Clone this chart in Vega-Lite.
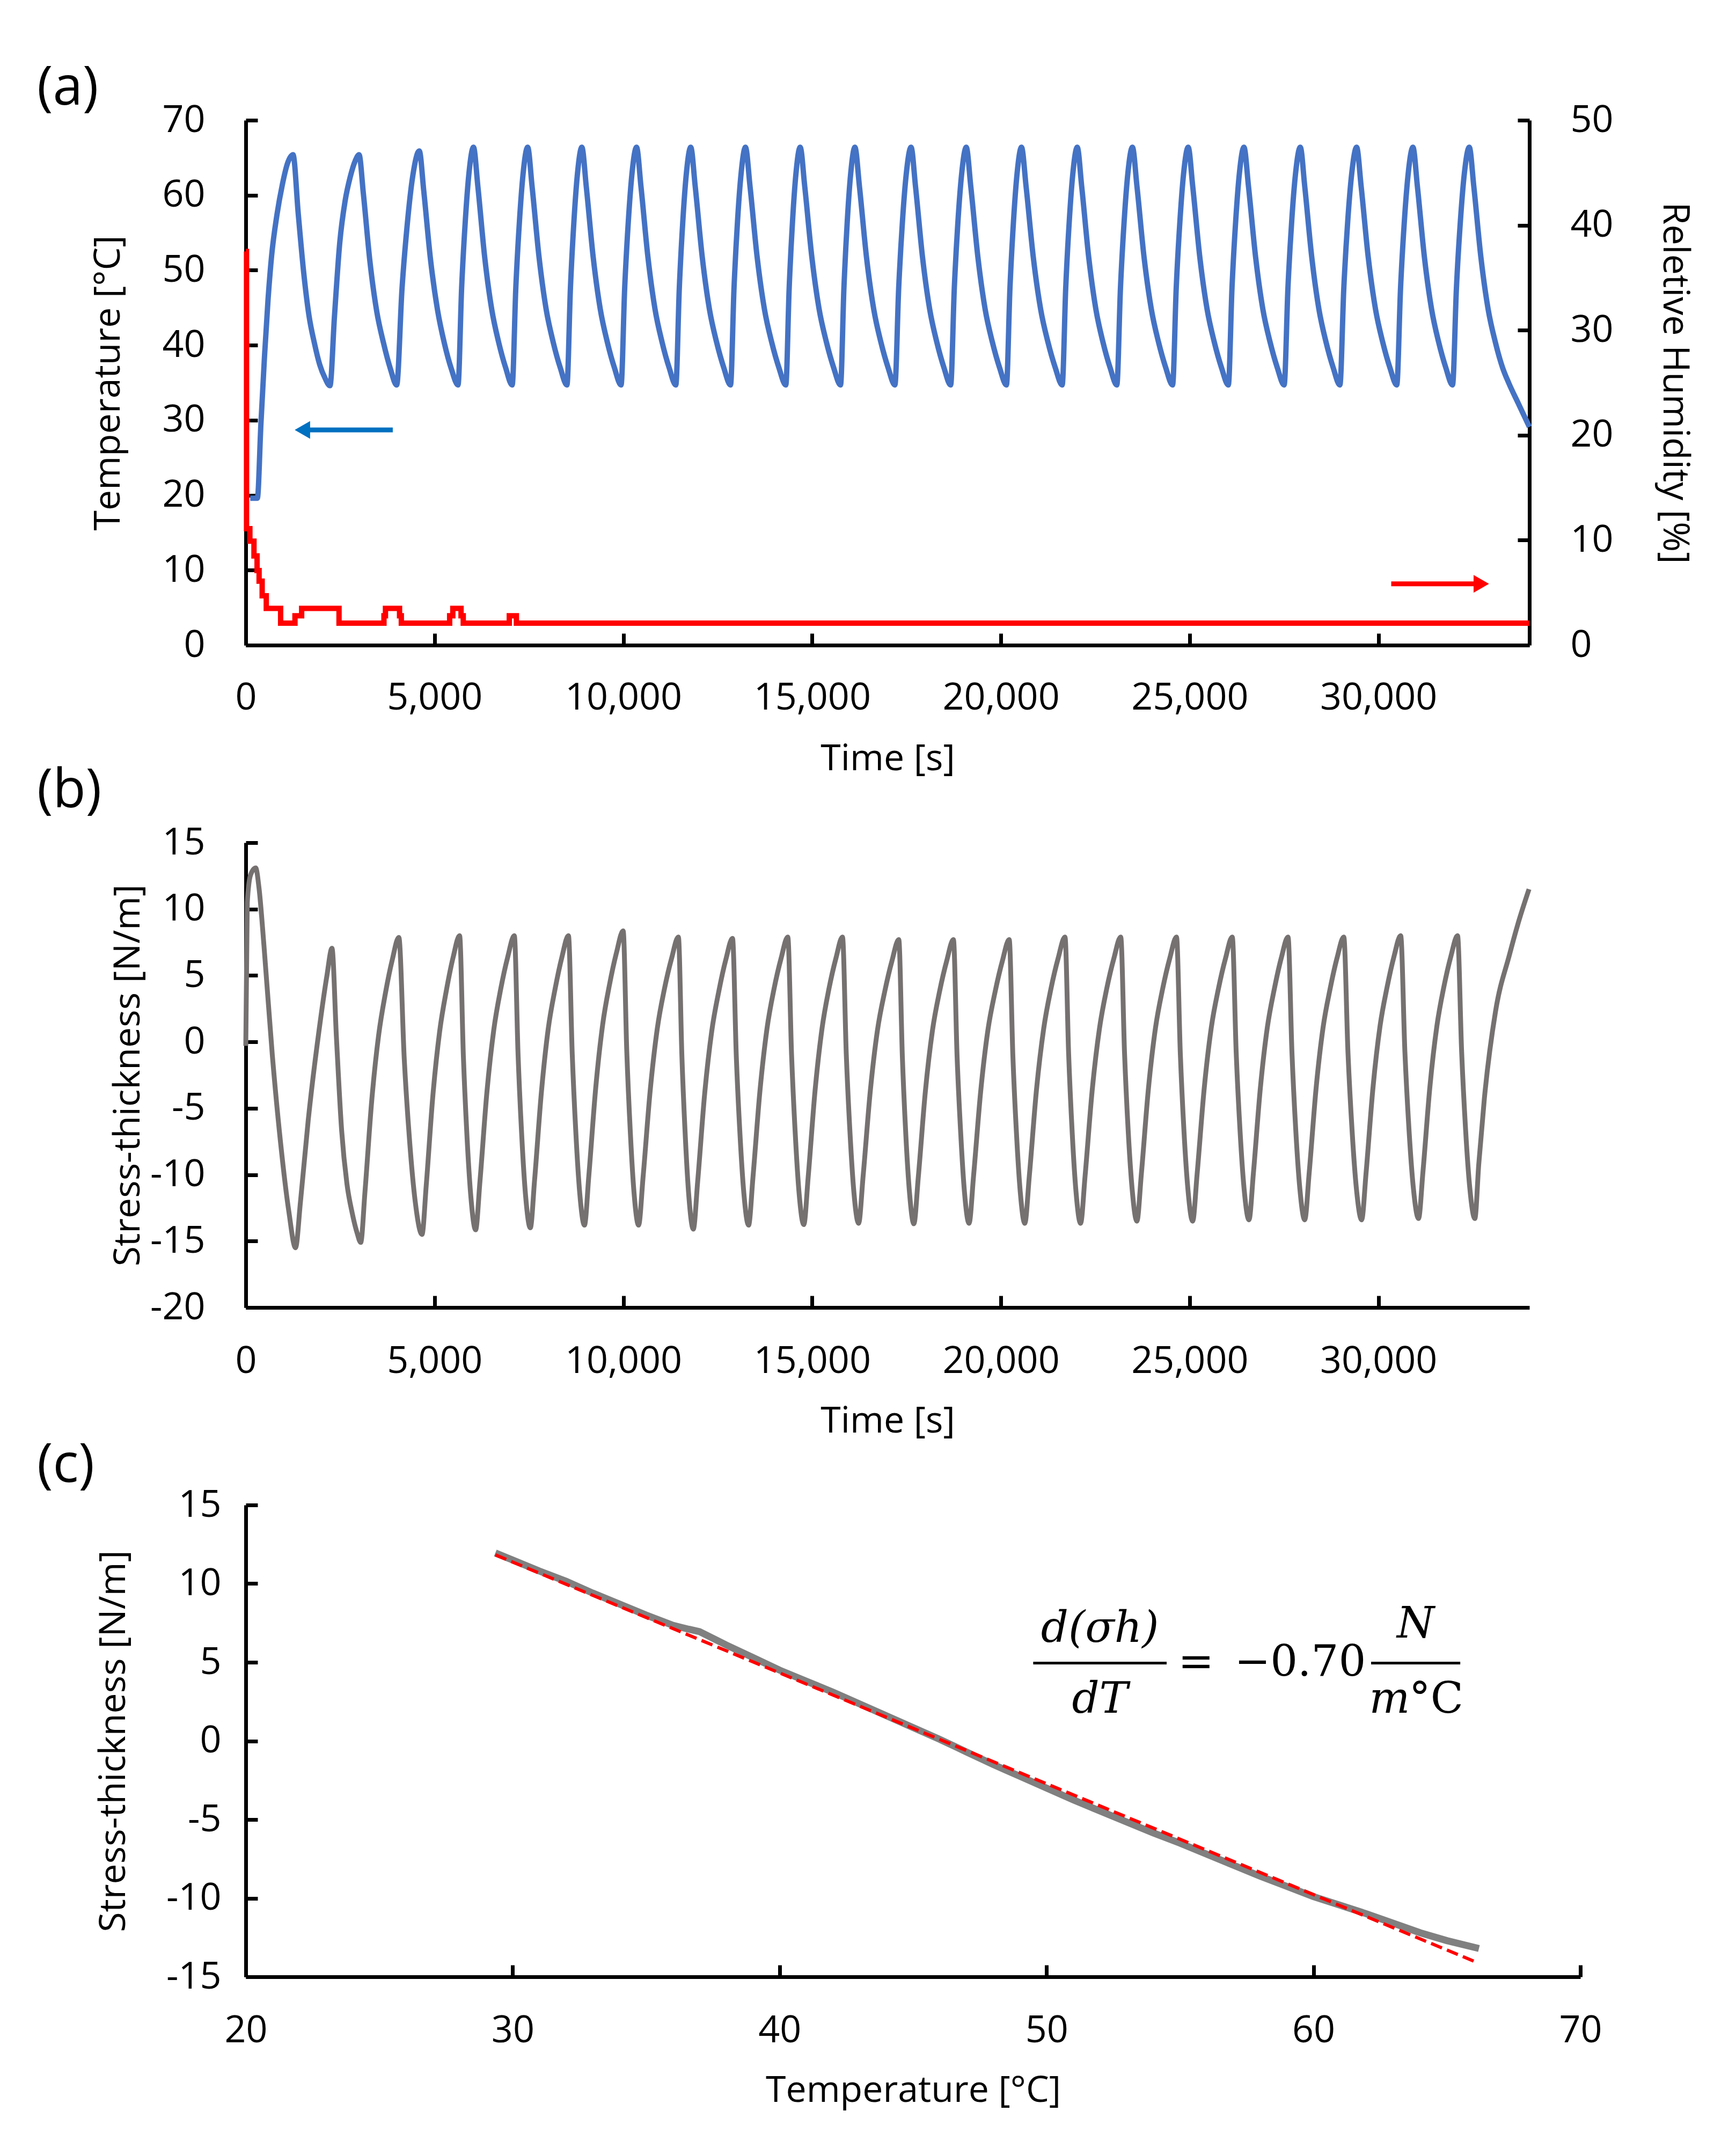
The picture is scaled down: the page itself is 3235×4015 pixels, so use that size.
{
  "$schema": "https://vega.github.io/schema/vega-lite/v6.json",
  "padding": {"left": 69, "top": 115, "right": 60, "bottom": 10},
  "background": "white",
  "config": {
    "font": "Open Sans",
    "view": {"stroke": null},
    "axis": {
      "grid": false, "domainColor": "black", "domainWidth": 7,
      "tickColor": "black", "tickWidth": 7, "tickSize": -22,
      "labelFontSize": 70, "labelColor": "black", "labelLimit": 0,
      "titleFontSize": 68, "titleColor": "black", "titleFontWeight": "normal",
      "labelFlush": false, "labelOverlap": false
    },
    "title": {"fontSize": 100, "fontWeight": "normal", "color": "black", "anchor": "start", "frame": "group", "dx": -389, "baseline": "alphabetic"}
  },
  "datasets": {
    "temp": [
      {"time":118,"temp":19.6},{"time":307,"temp":19.6},{"time":401,"temp":29.5},{"time":496,"temp":38.5},{"time":590,"temp":46.1},{"time":684,"temp":51.9},{"time":826,"temp":57.4},{"time":968,"temp":61.4},{"time":1109,"temp":64.3},{"time":1251,"temp":65.4},
      {"time":1392,"temp":57.4},{"time":1534,"temp":49.7},{"time":1676,"temp":43.9},{"time":1817,"temp":40.3},{"time":1959,"temp":37.4},{"time":2100,"temp":35.6},{"time":2230,"temp":34.6},
      {"time":2350,"temp":43.9},{"time":2490,"temp":53.7},{"time":2630,"temp":59.2},{"time":2770,"temp":62.5},{"time":2900,"temp":64.6},{"time":3001,"temp":65.4},
      {"time":3113,"temp":60.3},{"time":3290,"temp":51.1},{"time":3469,"temp":44.5},{"time":3648,"temp":40.3},{"time":3828,"temp":36.9},{"time":3997,"temp":34.7},
      {"time":4138,"temp":47.5},{"time":4279,"temp":56.2},{"time":4421,"temp":62.5},{"time":4597,"temp":65.9},
      {"time":4712,"temp":60.7},{"time":4894,"temp":51.4},{"time":5079,"temp":44.7},{"time":5263,"temp":40.2},{"time":5448,"temp":36.8},{"time":5622,"temp":34.7},
      {"time":5718,"temp":47.7},{"time":5815,"temp":56.6},{"time":5911,"temp":62.9},{"time":6032,"temp":66.4},
      {"time":6147,"temp":61.2},{"time":6329,"temp":51.7},{"time":6514,"temp":44.8},{"time":6698,"temp":40.4},{"time":6883,"temp":37.0},{"time":7057,"temp":34.7},
      {"time":7153,"temp":47.7},{"time":7250,"temp":56.6},{"time":7346,"temp":62.9},{"time":7467,"temp":66.4},
      {"time":7583,"temp":61.2},{"time":7769,"temp":51.7},{"time":7956,"temp":44.8},{"time":8143,"temp":40.4},{"time":8330,"temp":37.0},{"time":8507,"temp":34.7},
      {"time":8600,"temp":47.7},{"time":8693,"temp":56.6},{"time":8786,"temp":62.9},{"time":8902,"temp":66.4},
      {"time":9018,"temp":61.2},{"time":9203,"temp":51.7},{"time":9390,"temp":44.8},{"time":9577,"temp":40.4},{"time":9764,"temp":37.0},{"time":9941,"temp":34.7},
      {"time":10037,"temp":47.7},{"time":10134,"temp":56.6},{"time":10230,"temp":62.9},{"time":10351,"temp":66.4},
      {"time":10467,"temp":61.2},{"time":10653,"temp":51.7},{"time":10840,"temp":44.8},{"time":11027,"temp":40.4},{"time":11214,"temp":37.0},{"time":11391,"temp":34.7},
      {"time":11484,"temp":47.7},{"time":11577,"temp":56.6},{"time":11670,"temp":62.9},{"time":11786,"temp":66.4},
      {"time":11904,"temp":61.2},{"time":12092,"temp":51.7},{"time":12281,"temp":44.8},{"time":12471,"temp":40.4},{"time":12661,"temp":37.0},{"time":12840,"temp":34.7},
      {"time":12933,"temp":47.7},{"time":13026,"temp":56.6},{"time":13120,"temp":62.9},{"time":13236,"temp":66.4},
      {"time":13356,"temp":61.2},{"time":13546,"temp":51.7},{"time":13738,"temp":44.8},{"time":13930,"temp":40.4},{"time":14122,"temp":37.0},{"time":14304,"temp":34.7},
      {"time":14394,"temp":47.7},{"time":14483,"temp":56.6},{"time":14573,"temp":62.9},{"time":14685,"temp":66.4},
      {"time":14805,"temp":61.2},{"time":14995,"temp":51.7},{"time":15187,"temp":44.8},{"time":15380,"temp":40.4},{"time":15572,"temp":37.0},{"time":15754,"temp":34.7},
      {"time":15844,"temp":47.7},{"time":15933,"temp":56.6},{"time":16023,"temp":62.9},{"time":16135,"temp":66.4},
      {"time":16254,"temp":61.2},{"time":16442,"temp":51.7},{"time":16633,"temp":44.8},{"time":16823,"temp":40.4},{"time":17014,"temp":37.0},{"time":17194,"temp":34.7},
      {"time":17295,"temp":47.7},{"time":17395,"temp":56.6},{"time":17496,"temp":62.9},{"time":17622,"temp":66.4},
      {"time":17739,"temp":61.2},{"time":17926,"temp":51.7},{"time":18115,"temp":44.8},{"time":18304,"temp":40.4},{"time":18493,"temp":37.0},{"time":18671,"temp":34.7},
      {"time":18768,"temp":47.7},{"time":18865,"temp":56.6},{"time":18963,"temp":62.9},{"time":19084,"temp":66.4},
      {"time":19203,"temp":61.2},{"time":19393,"temp":51.7},{"time":19584,"temp":44.8},{"time":19776,"temp":40.4},{"time":19967,"temp":37.0},{"time":20148,"temp":34.7},
      {"time":20242,"temp":47.7},{"time":20336,"temp":56.6},{"time":20430,"temp":62.9},{"time":20547,"temp":66.4},
      {"time":20668,"temp":61.2},{"time":20860,"temp":51.7},{"time":21054,"temp":44.8},{"time":21248,"temp":40.4},{"time":21442,"temp":37.0},{"time":21625,"temp":34.7},
      {"time":21719,"temp":47.7},{"time":21813,"temp":56.6},{"time":21907,"temp":62.9},{"time":22024,"temp":66.4},
      {"time":22141,"temp":61.2},{"time":22328,"temp":51.7},{"time":22517,"temp":44.8},{"time":22705,"temp":40.4},{"time":22894,"temp":37.0},{"time":23072,"temp":34.7},
      {"time":23169,"temp":47.7},{"time":23267,"temp":56.6},{"time":23364,"temp":62.9},{"time":23486,"temp":66.4},
      {"time":23605,"temp":61.2},{"time":23794,"temp":51.7},{"time":23986,"temp":44.8},{"time":24177,"temp":40.4},{"time":24368,"temp":37.0},{"time":24549,"temp":34.7},
      {"time":24646,"temp":47.7},{"time":24744,"temp":56.6},{"time":24841,"temp":62.9},{"time":24963,"temp":66.4},
      {"time":25082,"temp":61.2},{"time":25271,"temp":51.7},{"time":25463,"temp":44.8},{"time":25654,"temp":40.4},{"time":25845,"temp":37.0},{"time":26026,"temp":34.7},
      {"time":26123,"temp":47.7},{"time":26221,"temp":56.6},{"time":26318,"temp":62.9},{"time":26440,"temp":66.4},
      {"time":26559,"temp":61.2},{"time":26749,"temp":51.7},{"time":26940,"temp":44.8},{"time":27132,"temp":40.4},{"time":27323,"temp":37.0},{"time":27504,"temp":34.7},
      {"time":27605,"temp":47.7},{"time":27705,"temp":56.6},{"time":27806,"temp":62.9},{"time":27932,"temp":66.4},
      {"time":28049,"temp":61.2},{"time":28236,"temp":51.7},{"time":28425,"temp":44.8},{"time":28614,"temp":40.4},{"time":28803,"temp":37.0},{"time":28981,"temp":34.7},
      {"time":29085,"temp":47.7},{"time":29189,"temp":56.6},{"time":29294,"temp":62.9},{"time":29424,"temp":66.4},
      {"time":29543,"temp":61.2},{"time":29732,"temp":51.7},{"time":29924,"temp":44.8},{"time":30115,"temp":40.4},{"time":30306,"temp":37.0},{"time":30487,"temp":34.7},
      {"time":30588,"temp":47.7},{"time":30689,"temp":56.6},{"time":30790,"temp":62.9},{"time":30916,"temp":66.4},
      {"time":31033,"temp":61.2},{"time":31220,"temp":51.7},{"time":31409,"temp":44.8},{"time":31597,"temp":40.4},{"time":31786,"temp":37.0},{"time":31964,"temp":34.7},
      {"time":32068,"temp":47.7},{"time":32173,"temp":56.6},{"time":32277,"temp":62.9},{"time":32408,"temp":66.4},
      {"time":32527,"temp":61.2},{"time":32716,"temp":51.7},{"time":32907,"temp":44.8},{"time":33098,"temp":40.4},{"time":33290,"temp":37.0},{"time":33458,"temp":34.9},{"time":33700,"temp":32.3},{"time":34000,"temp":29.1}
    ],
    "rh": [
      {"time":0,"rh":37.5},{"time":20,"rh":11.1},{"time":109,"rh":9.9},{"time":217,"rh":8.5},{"time":299,"rh":7.1},{"time":353,"rh":6.1},{"time":434,"rh":4.7},{"time":543,"rh":3.5},
      {"time":923,"rh":2.1},{"time":1303,"rh":2.8},{"time":1480,"rh":3.5},{"time":2470,"rh":2.1},{"time":3660,"rh":2.8},{"time":3700,"rh":3.5},{"time":4073,"rh":2.8},{"time":4120,"rh":2.1},
      {"time":5400,"rh":2.8},{"time":5484,"rh":3.5},{"time":5702,"rh":2.8},{"time":5760,"rh":2.1},{"time":6980,"rh":2.8},{"time":7168,"rh":2.1},{"time":34000,"rh":2.1}
    ],
    "stress": [
      {"time":0,"st":-0.3},{"time":40,"st":10.5},{"time":130,"st":12.6},{"time":263,"st":13.1},{"time":350,"st":11.6},{"time":483,"st":7.2},{"time":703,"st":-1.0},{"time":922,"st":-7.6},{"time":1142,"st":-12.8},{"time":1317,"st":-15.5},
      {"time":1450,"st":-12.0},{"time":1654,"st":-5.9},{"time":1947,"st":1.0},{"time":2150,"st":5.0},{"time":2283,"st":7.05},
      {"time":2400,"st":0.4},{"time":2540,"st":-6.7},{"time":2680,"st":-10.7},{"time":2820,"st":-12.9},{"time":2950,"st":-14.4},{"time":3044,"st":-15.1},
      {"time":3157,"st":-11.3},{"time":3337,"st":-4.4},{"time":3519,"st":0.5},{"time":3701,"st":3.7},{"time":3882,"st":6.2},{"time":4054,"st":7.87},
      {"time":4198,"st":-1.3},{"time":4343,"st":-7.6},{"time":4487,"st":-12.0},{"time":4668,"st":-14.5},
      {"time":4780,"st":-10.8},{"time":4957,"st":-4.0},{"time":5136,"st":0.8},{"time":5315,"st":3.9},{"time":5495,"st":6.4},{"time":5664,"st":8.0},
      {"time":5764,"st":-1.1},{"time":5863,"st":-7.3},{"time":5963,"st":-11.7},{"time":6088,"st":-14.15},
      {"time":6203,"st":-10.5},{"time":6385,"st":-3.85},{"time":6570,"st":0.93},{"time":6754,"st":4.0},{"time":6939,"st":6.4},{"time":7113,"st":8.0},
      {"time":7213,"st":-1.0},{"time":7312,"st":-7.2},{"time":7412,"st":-11.6},{"time":7537,"st":-14.0},
      {"time":7650,"st":-10.4},{"time":7830,"st":-3.8},{"time":8012,"st":1.0},{"time":8194,"st":4.0},{"time":8375,"st":6.4},{"time":8547,"st":8.0},
      {"time":8647,"st":-0.9},{"time":8746,"st":-7.0},{"time":8846,"st":-11.4},{"time":8971,"st":-13.8},
      {"time":9086,"st":-10.1},{"time":9268,"st":-3.5},{"time":9453,"st":1.3},{"time":9637,"st":4.35},{"time":9822,"st":6.75},{"time":9996,"st":8.36},
      {"time":10092,"st":-0.73},{"time":10188,"st":-6.93},{"time":10285,"st":-11.4},{"time":10405,"st":-13.8},
      {"time":10523,"st":-10.2},{"time":10711,"st":-3.7},{"time":10900,"st":1.0},{"time":11090,"st":4.0},{"time":11280,"st":6.3},{"time":11459,"st":7.9},
      {"time":11552,"st":-1.1},{"time":11645,"st":-7.3},{"time":11738,"st":-11.7},{"time":11854,"st":-14.1},
      {"time":11970,"st":-10.5},{"time":12155,"st":-3.9},{"time":12342,"st":0.8},{"time":12529,"st":3.8},{"time":12716,"st":6.2},{"time":12893,"st":7.8},
      {"time":12993,"st":-1.1},{"time":13093,"st":-7.1},{"time":13193,"st":-11.4},{"time":13318,"st":-13.8},
      {"time":13434,"st":-10.2},{"time":13619,"st":-3.7},{"time":13806,"st":1.0},{"time":13993,"st":4.0},{"time":14180,"st":6.3},{"time":14357,"st":7.9},
      {"time":14457,"st":-1.0},{"time":14556,"st":-7.0},{"time":14656,"st":-11.4},{"time":14781,"st":-13.76},
      {"time":14896,"st":-10.2},{"time":15078,"st":-3.7},{"time":15263,"st":1.0},{"time":15447,"st":4.0},{"time":15632,"st":6.3},{"time":15806,"st":7.9},
      {"time":15906,"st":-0.94},{"time":16007,"st":-6.98},{"time":16107,"st":-11.3},{"time":16233,"st":-13.66},
      {"time":16352,"st":-10.1},{"time":16542,"st":-3.7},{"time":16733,"st":0.9},{"time":16925,"st":3.8},{"time":17116,"st":6.1},{"time":17297,"st":7.7},
      {"time":17391,"st":-1.1},{"time":17485,"st":-7.1},{"time":17579,"st":-11.3},{"time":17696,"st":-13.7},
      {"time":17813,"st":-10.2},{"time":18000,"st":-3.75},{"time":18189,"st":0.87},{"time":18377,"st":3.8},{"time":18566,"st":6.1},{"time":18744,"st":7.7},
      {"time":18841,"st":-1.1},{"time":18939,"st":-7.0},{"time":19036,"st":-11.3},{"time":19158,"st":-13.66},
      {"time":19277,"st":-10.1},{"time":19467,"st":-3.7},{"time":19658,"st":0.9},{"time":19850,"st":3.8},{"time":20041,"st":6.1},{"time":20222,"st":7.7},
      {"time":20319,"st":-1.1},{"time":20416,"st":-7.0},{"time":20514,"st":-11.3},{"time":20635,"st":-13.66},
      {"time":20754,"st":-10.1},{"time":20944,"st":-3.6},{"time":21135,"st":1.0},{"time":21327,"st":4.0},{"time":21518,"st":6.3},{"time":21699,"st":7.9},
      {"time":21796,"st":-0.94},{"time":21893,"st":-7.0},{"time":21991,"st":-11.3},{"time":22112,"st":-13.66},
      {"time":22231,"st":-10.1},{"time":22421,"st":-3.6},{"time":22612,"st":1.0},{"time":22804,"st":4.0},{"time":22995,"st":6.3},{"time":23176,"st":7.9},
      {"time":23277,"st":-0.9},{"time":23377,"st":-6.9},{"time":23478,"st":-11.1},{"time":23604,"st":-13.5},
      {"time":23721,"st":-9.97},{"time":23908,"st":-3.55},{"time":24097,"st":1.07},{"time":24286,"st":4.0},{"time":24475,"st":6.3},{"time":24653,"st":7.9},
      {"time":24754,"st":-0.9},{"time":24854,"st":-6.9},{"time":24955,"st":-11.1},{"time":25081,"st":-13.5},
      {"time":25198,"st":-9.97},{"time":25385,"st":-3.55},{"time":25574,"st":1.07},{"time":25763,"st":4.0},{"time":25952,"st":6.3},{"time":26130,"st":7.9},
      {"time":26234,"st":-0.83},{"time":26338,"st":-6.8},{"time":26443,"st":-11.06},{"time":26573,"st":-13.4},
      {"time":26689,"st":-9.9},{"time":26873,"st":-3.5},{"time":27059,"st":1.1},{"time":27245,"st":4.0},{"time":27431,"st":6.35},{"time":27607,"st":7.9},
      {"time":27711,"st":-0.83},{"time":27815,"st":-6.8},{"time":27920,"st":-11.06},{"time":28050,"st":-13.4},
      {"time":28166,"st":-9.9},{"time":28350,"st":-3.5},{"time":28536,"st":1.1},{"time":28722,"st":4.0},{"time":28908,"st":6.35},{"time":29084,"st":7.9},
      {"time":29195,"st":-0.83},{"time":29306,"st":-6.8},{"time":29418,"st":-11.06},{"time":29557,"st":-13.4},
      {"time":29673,"st":-9.9},{"time":29857,"st":-3.45},{"time":30043,"st":1.17},{"time":30229,"st":4.1},{"time":30415,"st":6.45},{"time":30591,"st":8.0},
      {"time":30702,"st":-0.73},{"time":30813,"st":-6.7},{"time":30925,"st":-10.96},{"time":31064,"st":-13.3},
      {"time":31180,"st":-9.8},{"time":31364,"st":-3.4},{"time":31550,"st":1.2},{"time":31735,"st":4.15},{"time":31921,"st":6.45},{"time":32097,"st":8.0},
      {"time":32205,"st":-0.73},{"time":32312,"st":-6.7},{"time":32420,"st":-10.96},{"time":32555,"st":-13.3},
      {"time":32659,"st":-9.2},{"time":32806,"st":-4.3},{"time":33102,"st":2.28},{"time":33471,"st":6.55},{"time":33693,"st":8.85},{"time":33990,"st":11.5}
    ],
    "corr": [
      {"T":29.35,"S":11.95},{"T":30,"S":11.5},{"T":31,"S":10.8},{"T":32,"S":10.15},{"T":33,"S":9.4},{"T":34,"S":8.7},{"T":35,"S":8.0},{"T":36,"S":7.35},{"T":36.6,"S":7.1},{"T":37,"S":6.95},
      {"T":38,"S":6.1},{"T":39,"S":5.3},{"T":40,"S":4.5},{"T":41,"S":3.8},{"T":42,"S":3.1},{"T":43,"S":2.35},{"T":44,"S":1.6},{"T":45,"S":0.85},{"T":46,"S":0.1},{"T":47,"S":-0.7},
      {"T":48,"S":-1.5},{"T":49,"S":-2.25},{"T":50,"S":-3.0},{"T":51,"S":-3.75},{"T":52,"S":-4.45},{"T":53,"S":-5.15},{"T":54,"S":-5.85},{"T":55,"S":-6.5},{"T":56,"S":-7.2},{"T":57,"S":-7.9},
      {"T":58,"S":-8.6},{"T":59,"S":-9.25},{"T":60,"S":-9.9},{"T":61,"S":-10.45},{"T":62,"S":-11.0},{"T":63,"S":-11.6},{"T":64,"S":-12.2},{"T":65,"S":-12.7},{"T":66.2,"S":-13.2}
    ],
    "fit": [
      {"T":29.35,"S":11.83},{"T":66.0,"S":-14.0}
    ]
  },
  "vconcat": [
    {
      "width": 2392,
      "height": 978,
      "title": {"text": "(a)", "offset": -27},
      "layer": [
        {
          "layer": [
            {
              "data": {"name": "temp"},
              "mark": {"type": "line", "color": "#4472C4", "strokeWidth": 10, "interpolate": "monotone"},
              "encoding": {
                "x": {"field": "time", "type": "quantitative", "scale": {"domain": [0, 34000], "nice": false},
                  "axis": {"title": "Time [s]", "values": [0, 5000, 10000, 15000, 20000, 25000, 30000], "format": ",d", "labelPadding": 86, "titlePadding": 45}},
                "y": {"field": "temp", "type": "quantitative", "scale": {"domain": [0, 70], "nice": false},
                  "axis": {"title": "Temperature [°C]", "values": [0, 10, 20, 30, 40, 50, 60, 70], "labelPadding": 98, "titlePadding": 65}}
              }
            },
            {
              "data": {"values": [{"time": 3894, "time2": 1650, "temp": 28.7}]},
              "mark": {"type": "rule", "color": "#0070C0", "strokeWidth": 9},
              "encoding": {
                "x": {"field": "time", "type": "quantitative"},
                "x2": {"field": "time2"},
                "y": {"field": "temp", "type": "quantitative"}
              }
            },
            {
              "data": {"values": [{"time": 1500, "temp": 28.7}]},
              "mark": {"type": "point", "shape": "triangle-left", "filled": true, "opacity": 1, "color": "#0070C0", "size": 1100},
              "encoding": {
                "x": {"field": "time", "type": "quantitative"},
                "y": {"field": "temp", "type": "quantitative"}
              }
            }
          ]
        },
        {
          "layer": [
            {
              "data": {"name": "rh"},
              "mark": {"type": "line", "color": "#FF0000", "strokeWidth": 10, "interpolate": "step-after"},
              "encoding": {
                "x": {"field": "time", "type": "quantitative"},
                "y": {"field": "rh", "type": "quantitative", "scale": {"domain": [0, 50], "nice": false},
                  "axis": {"orient": "right", "title": "Reletive Humidity [%]", "values": [0, 10, 20, 30, 40, 50], "labelPadding": 98, "titlePadding": 79}}
              }
            },
            {
              "data": {"values": [{"time": 30340, "time2": 32750, "rh": 5.84}]},
              "mark": {"type": "rule", "color": "#FF0000", "strokeWidth": 9},
              "encoding": {
                "x": {"field": "time", "type": "quantitative"},
                "x2": {"field": "time2"},
                "y": {"field": "rh", "type": "quantitative"}
              }
            },
            {
              "data": {"values": [{"time": 32726, "rh": 5.84}]},
              "mark": {"type": "point", "shape": "triangle-right", "filled": true, "opacity": 1, "color": "#FF0000", "size": 1100},
              "encoding": {
                "x": {"field": "time", "type": "quantitative"},
                "y": {"field": "rh", "type": "quantitative"}
              }
            }
          ]
        }
      ],
      "resolve": {"scale": {"y": "independent"}}
    },
    {
      "width": 2392,
      "height": 866,
      "title": {"text": "(b)", "offset": 10},
      "data": {"name": "stress"},
      "mark": {"type": "line", "color": "#767171", "strokeWidth": 9, "interpolate": "monotone"},
      "encoding": {
        "x": {"field": "time", "type": "quantitative", "scale": {"domain": [0, 34000], "nice": false},
          "axis": {"title": "Time [s]", "values": [0, 5000, 10000, 15000, 20000, 25000, 30000], "format": ",d", "labelPadding": 88, "titlePadding": 43}},
        "y": {"field": "st", "type": "quantitative", "scale": {"domain": [-20, 15], "nice": false},
          "axis": {"title": "Stress-thickness [N/m]", "values": [-20, -15, -10, -5, 0, 5, 10, 15], "labelExpr": "'' + datum.value", "labelPadding": 98, "titlePadding": 6}}
      }
    },
    {
      "width": 2487,
      "height": 879,
      "title": {"text": "(c)", "offset": -13},
      "layer": [
        {
          "data": {"name": "corr"},
          "mark": {"type": "line", "color": "#808080", "strokeWidth": 13},
          "encoding": {
            "x": {"field": "T", "type": "quantitative", "scale": {"domain": [20, 70], "nice": false},
              "axis": {"title": "Temperature [°C]", "values": [20, 30, 40, 50, 60, 70], "labelPadding": 88, "titlePadding": 43}},
            "y": {"field": "S", "type": "quantitative", "scale": {"domain": [-15, 15], "nice": false},
              "axis": {"title": "Stress-thickness [N/m]", "values": [-15, -10, -5, 0, 5, 10, 15], "labelExpr": "'' + datum.value", "labelPadding": 68, "titlePadding": 63}}
          }
        },
        {
          "data": {"name": "fit"},
          "mark": {"type": "line", "color": "#FF0000", "strokeWidth": 6, "strokeDash": [22, 10]},
          "encoding": {
            "x": {"field": "T", "type": "quantitative"},
            "y": {"field": "S", "type": "quantitative"}
          }
        },
        {
          "data": {"values": [{"T": 49.5, "T2": 54.5, "S": 4.95}, {"T": 62.16, "T2": 65.5, "S": 4.95}]},
          "mark": {"type": "rule", "color": "black", "strokeWidth": 5},
          "encoding": {
            "x": {"field": "T", "type": "quantitative"},
            "x2": {"field": "T2"},
            "y": {"field": "S", "type": "quantitative"}
          }
        },
        {
          "data": {"values": [{"T": 52.0, "S": 7.1, "label": "d(σh)"}, {"T": 52.0, "S": 2.6, "label": "dT"}, {"T": 63.83, "S": 7.4, "label": "N"}, {"T": 62.85, "S": 2.6, "label": "m"}]},
          "mark": {"type": "text", "font": "DejaVu Serif", "fontStyle": "italic", "fontSize": 80, "color": "black", "baseline": "middle", "align": "center"},
          "encoding": {
            "x": {"field": "T", "type": "quantitative"},
            "y": {"field": "S", "type": "quantitative"},
            "text": {"field": "label"}
          }
        },
        {
          "data": {"values": [{"T": 55.6, "S": 4.95, "label": "="}, {"T": 59.5, "S": 4.95, "label": "−0.70"}, {"T": 64.6, "S": 2.6, "label": "°C"}]},
          "mark": {"type": "text", "font": "DejaVu Serif", "fontSize": 80, "color": "black", "baseline": "middle", "align": "center"},
          "encoding": {
            "x": {"field": "T", "type": "quantitative"},
            "y": {"field": "S", "type": "quantitative"},
            "text": {"field": "label"}
          }
        }
      ]
    }
  ],
  "spacing": 368,
  "bounds": "flush"
}
